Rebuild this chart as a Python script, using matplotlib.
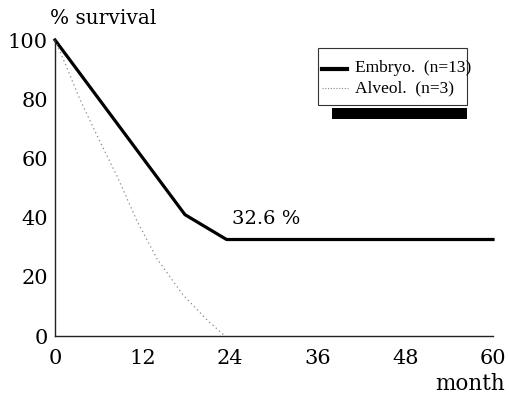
import matplotlib
matplotlib.use("Agg")
import matplotlib.pyplot as plt
from matplotlib.patches import Rectangle
from matplotlib.lines import Line2D

# Data
embryo_months = [0, 17.8, 23.5, 60]
embryo_surv = [100, 41, 32.6, 32.6]
alveol_months = [0, 1.4, 3.4, 5.9, 8.5, 11.2, 14, 17.5, 21, 23.3]
alveol_surv = [100, 92, 80, 67, 54, 39, 26, 14, 5, 0]
xticks = [0, 12, 24, 36, 48, 60]
yticks = [0, 20, 40, 60, 80, 100]
legend_labels = ["Embryo.  (n=13)", "Alveol.  (n=3)"]

serif = ['DejaVu Serif']
leg_font = ['Liberation Serif']
plt.rcParams['font.family'] = serif

W, H = 509, 399
fig = plt.figure(figsize=(W / 100, H / 100), dpi=100)
x0, x1 = 55, 493
y0, y1 = 336, 40
ax = fig.add_axes([x0 / W, (H - y0) / H, (x1 - x0) / W, (y0 - y1) / H])
ax.set_xlim(0, 60)
ax.set_ylim(0, 100)

ax.plot(embryo_months, embryo_surv, color='black', lw=2.3, solid_joinstyle='round', clip_on=False)
ax.plot(alveol_months, alveol_surv, color='#888888', lw=0.9, linestyle=(0, (1, 2.5)), clip_on=False)

for s in ['top', 'right']:
    ax.spines[s].set_visible(False)
for s in ['left', 'bottom']:
    ax.spines[s].set_linewidth(1.0)
    ax.spines[s].set_color('#222222')

ax.set_xticks(xticks)
ax.set_yticks(yticks)
ax.tick_params(length=0, labelsize=15)
ax.tick_params(axis='x', pad=9)
ax.tick_params(axis='y', pad=5)

fig.text(50 / W, 1 - 18 / H, "% survival", fontsize=14.5, ha='left', va='center')
fig.text(505 / W, 1 - 384 / H, "month", fontsize=15.5, ha='right', va='center')
ax.text(28.9, 39.5, "32.6 %", fontsize=14, ha='center', va='center')

# Legend frame and shadow bar
fig.patches.append(Rectangle((318 / W, 1 - 105 / H), (467 - 318) / W, (105 - 48) / H,
                             transform=fig.transFigure, fill=False, lw=0.8,
                             edgecolor='#333333'))
fig.patches.append(Rectangle((332 / W, 1 - 119 / H), (467 - 332) / W, 11 / H,
                             transform=fig.transFigure, facecolor='black',
                             edgecolor='none'))
fig.lines.append(Line2D([322 / W, 347 / W], [1 - 69 / H, 1 - 69 / H],
                        transform=fig.transFigure, color='black', lw=3))
fig.lines.append(Line2D([322 / W, 348 / W], [1 - 88 / H, 1 - 88 / H],
                        transform=fig.transFigure, color='#888888', lw=0.8,
                        linestyle=(0, (1, 1.5))))
fig.text(355 / W, 1 - 68 / H, legend_labels[0], fontsize=12.5, ha='left', va='center',
         family=leg_font)
fig.text(355 / W, 1 - 88 / H, legend_labels[1], fontsize=12.5, ha='left', va='center',
         family=leg_font)

fig.savefig("out.png", dpi=100)
